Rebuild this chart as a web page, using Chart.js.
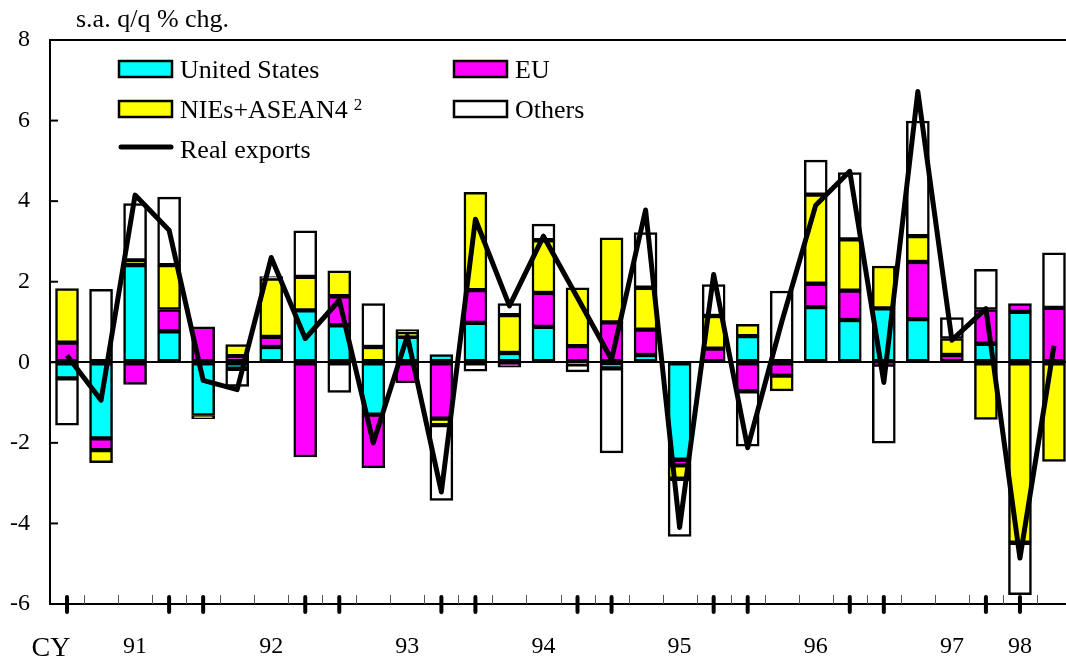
<!DOCTYPE html>
<html>
<head>
<meta charset="utf-8">
<title>Real exports by region</title>
<script src="https://cdn.jsdelivr.net/npm/chart.js@4.4.0/dist/chart.umd.min.js"></script>
<style>
    html, body { margin: 0; padding: 0; background: #fff; overflow: hidden; }
    #wrap { position: relative; width: 1071px; height: 662px; }
</style>
</head>
<body>
<div id="wrap"><canvas id="myChart" width="1071" height="662"></canvas></div>
<script>
// one category per quarter, only some carry a year label
const tickLabels = ['', '', '91', '', '', '', '92', '', '', '', '93', '', '', '', '94', '',
    '', '', '95', '', '', '', '96', '', '', '', '97', '', '98', ''];
// quarters that get a bold tick on the x axis
const boldTicks = [0, 3, 4, 7, 8, 11, 12, 15, 16, 19, 20, 23, 24, 27, 28];
const yTicks = [-6, -4, -2, 0, 2, 4, 6, 8];

const unitedStates = [-0.40, -1.89, 2.41, 0.77, -1.32, -0.16, 0.38, 1.29, 0.92, -1.30, 0.63, 0.19, 0.98, 0.23, 0.88,
    -0.05, -0.15, 0.18, -2.42, 0, 0.65, 0, 1.37, 1.05, 1.34, 1.07, 0, 0.46, 1.25, 0];
const eu = [0.49, -0.29, -0.55, 0.54, 0.88, 0.15, 0.25, -2.35, 0.72, -1.32, -0.51, -1.40, 0.81, -0.12, 0.84,
    0.40, 0.99, 0.63, -0.14, 0.34, -0.72, -0.33, 0.58, 0.73, -0.06, 1.42, 0.18, 0.85, 0.21, 1.35];
const niesAsean = [1.34, -0.31, 0.12, 1.10, -0.08, 0.29, 1.45, 0.83, 0.63, 0.38, 0.10, -0.16, 2.43, 0.94, 1.31,
    1.45, 2.10, 1.04, -0.33, 0.81, 0.29, -0.38, 2.21, 1.27, 1.05, 0.64, 0.41, -1.42, -4.48, -2.46];
const others = [-1.16, 1.81, 1.41, 1.69, 0, -0.44, 0.05, 1.14, -0.75, 1.08, 0.08, -1.87, -0.22, 0.29, 0.40,
    -0.19, -2.10, 1.37, -1.43, 0.78, -1.36, 1.77, 0.86, 1.66, -1.95, 2.86, 0.52, 1.00, -1.29, 1.37];
const realExports = [0.17, -0.94, 4.15, 3.28, -0.45, -0.68, 2.60, 0.59, 1.54, -2.00, 0.65, -3.22, 3.55, 1.40, 3.13,
    1.60, 0.07, 3.78, -4.10, 2.18, -2.12, 1.00, 3.90, 4.74, -0.50, 6.72, 0.55, 1.33, -4.86, 0.41];

const serif = '"Liberation Serif", "Times New Roman", serif';

function barSet(label, data, color) {
    return {
        type: 'bar',
        label: label,
        data: data,
        backgroundColor: color,
        borderColor: '#000',
        borderWidth: 2.5,
        borderSkipped: false,
        barThickness: 23,
        stack: 'bars',
        order: 1
    };
}

const legendItems = [
    {text: 'United States', color: '#00ffff', x: 119, row: 0},
    {text: 'EU', color: '#ff00ff', x: 454, row: 0},
    {text: 'NIEs+ASEAN4', color: '#ffff00', x: 119, row: 1, sup: '2'},
    {text: 'Others', color: '#ffffff', x: 454, row: 1},
    {text: 'Real exports', line: true, x: 119, row: 2}
];

const decor = {
    id: 'decor',
    afterDraw(chart) {
        const ctx = chart.ctx;
        const a = chart.chartArea;
        const x = chart.scales.x;
        const y = chart.scales.y;
        ctx.save();
        ctx.strokeStyle = '#000';
        ctx.lineWidth = 2;
        // frame top
        ctx.beginPath();
        ctx.moveTo(a.left, a.top);
        ctx.lineTo(a.right, a.top);
        ctx.stroke();
        // y ticks point inwards
        yTicks.forEach(v => {
            const py = y.getPixelForValue(v);
            ctx.beginPath();
            ctx.moveTo(a.left, py);
            ctx.lineTo(a.left + 8, py);
            ctx.stroke();
        });
        // thin ticks between quarters
        ctx.lineWidth = 1;
        ctx.strokeStyle = '#555';
        for (let i = 1; i < tickLabels.length; i++) {
            const px = Math.round((x.getPixelForValue(i - 1) + x.getPixelForValue(i)) / 2) + 0.5;
            ctx.beginPath();
            ctx.moveTo(px, a.bottom - 9);
            ctx.lineTo(px, a.bottom);
            ctx.stroke();
        }
        // bold ticks
        ctx.lineWidth = 4;
        ctx.lineCap = 'round';
        ctx.strokeStyle = '#000';
        boldTicks.forEach(i => {
            const px = x.getPixelForValue(i);
            ctx.beginPath();
            ctx.moveTo(px, a.bottom - 7);
            ctx.lineTo(px, a.bottom + 8);
            ctx.stroke();
        });

        ctx.fillStyle = '#000';
        ctx.textBaseline = 'alphabetic';
        ctx.textAlign = 'center';
        ctx.font = '28px ' + serif;
        ctx.fillText('CY', 51, 656);
        ctx.textAlign = 'left';
        ctx.font = '26px ' + serif;
        ctx.fillText('s.a. q/q % chg.', 76, 27);

        // legend
        legendItems.forEach(item => {
            const base = 78 + item.row * 40;
            if (item.line) {
                ctx.lineWidth = 5;
                ctx.lineCap = 'round';
                ctx.beginPath();
                ctx.moveTo(item.x + 2, base - 11);
                ctx.lineTo(item.x + 52, base - 11);
                ctx.stroke();
            } else {
                ctx.lineWidth = 2.5;
                ctx.fillStyle = item.color;
                ctx.fillRect(item.x, base - 17, 53, 16);
                ctx.strokeRect(item.x, base - 17, 53, 16);
            }
            ctx.fillStyle = '#000';
            ctx.font = '26px ' + serif;
            ctx.fillText(item.text, item.x + 61, base);
            if (item.sup) {
                const w = ctx.measureText(item.text).width;
                ctx.font = '17px ' + serif;
                ctx.fillText(item.sup, item.x + 61 + w + 6, base - 8);
            }
        });
        ctx.restore();
    }
};

new Chart(document.getElementById('myChart'), {
    data: {
        labels: tickLabels,
        datasets: [
            {
                type: 'line',
                label: 'Real exports',
                data: realExports,
                borderColor: '#000',
                borderWidth: 5,
                borderJoinStyle: 'round',
                pointRadius: 0,
                tension: 0,
                fill: false,
                stack: 'line',
                order: 0
            },
            barSet('United States', unitedStates, '#00ffff'),
            barSet('EU', eu, '#ff00ff'),
            barSet('NIEs+ASEAN4', niesAsean, '#ffff00'),
            barSet('Others', others, '#ffffff')
        ]
    },
    options: {
        responsive: false,
        animation: false,
        layout: {autoPadding: false, padding: {top: 40, left: 0, right: 0, bottom: 0}},
        plugins: {
            legend: {display: false},
            tooltip: {enabled: false}
        },
        scales: {
            x: {
                stacked: true,
                grid: {display: false},
                border: {display: true, color: '#000', width: 2},
                ticks: {
                    autoSkip: false,
                    maxRotation: 0,
                    color: '#000',
                    padding: 20,
                    font: {family: serif, size: 24}
                },
                afterFit: s => {
                    s.height = 58;
                    s.paddingLeft = 0;
                    s.paddingRight = 0;
                }
            },
            y: {
                stacked: true,
                min: -6,
                max: 8,
                ticks: {
                    stepSize: 2,
                    color: '#000',
                    padding: 20,
                    font: {family: serif, size: 24}
                },
                grid: {
                    drawTicks: false,
                    lineWidth: 2,
                    color: c => (c.tick && c.tick.value === 0) ? '#000' : 'rgba(0,0,0,0)'
                },
                border: {display: true, color: '#000', width: 2},
                afterFit: s => { s.width = 50; }
            }
        }
    },
    plugins: [decor]
});
</script>
</body>
</html>
